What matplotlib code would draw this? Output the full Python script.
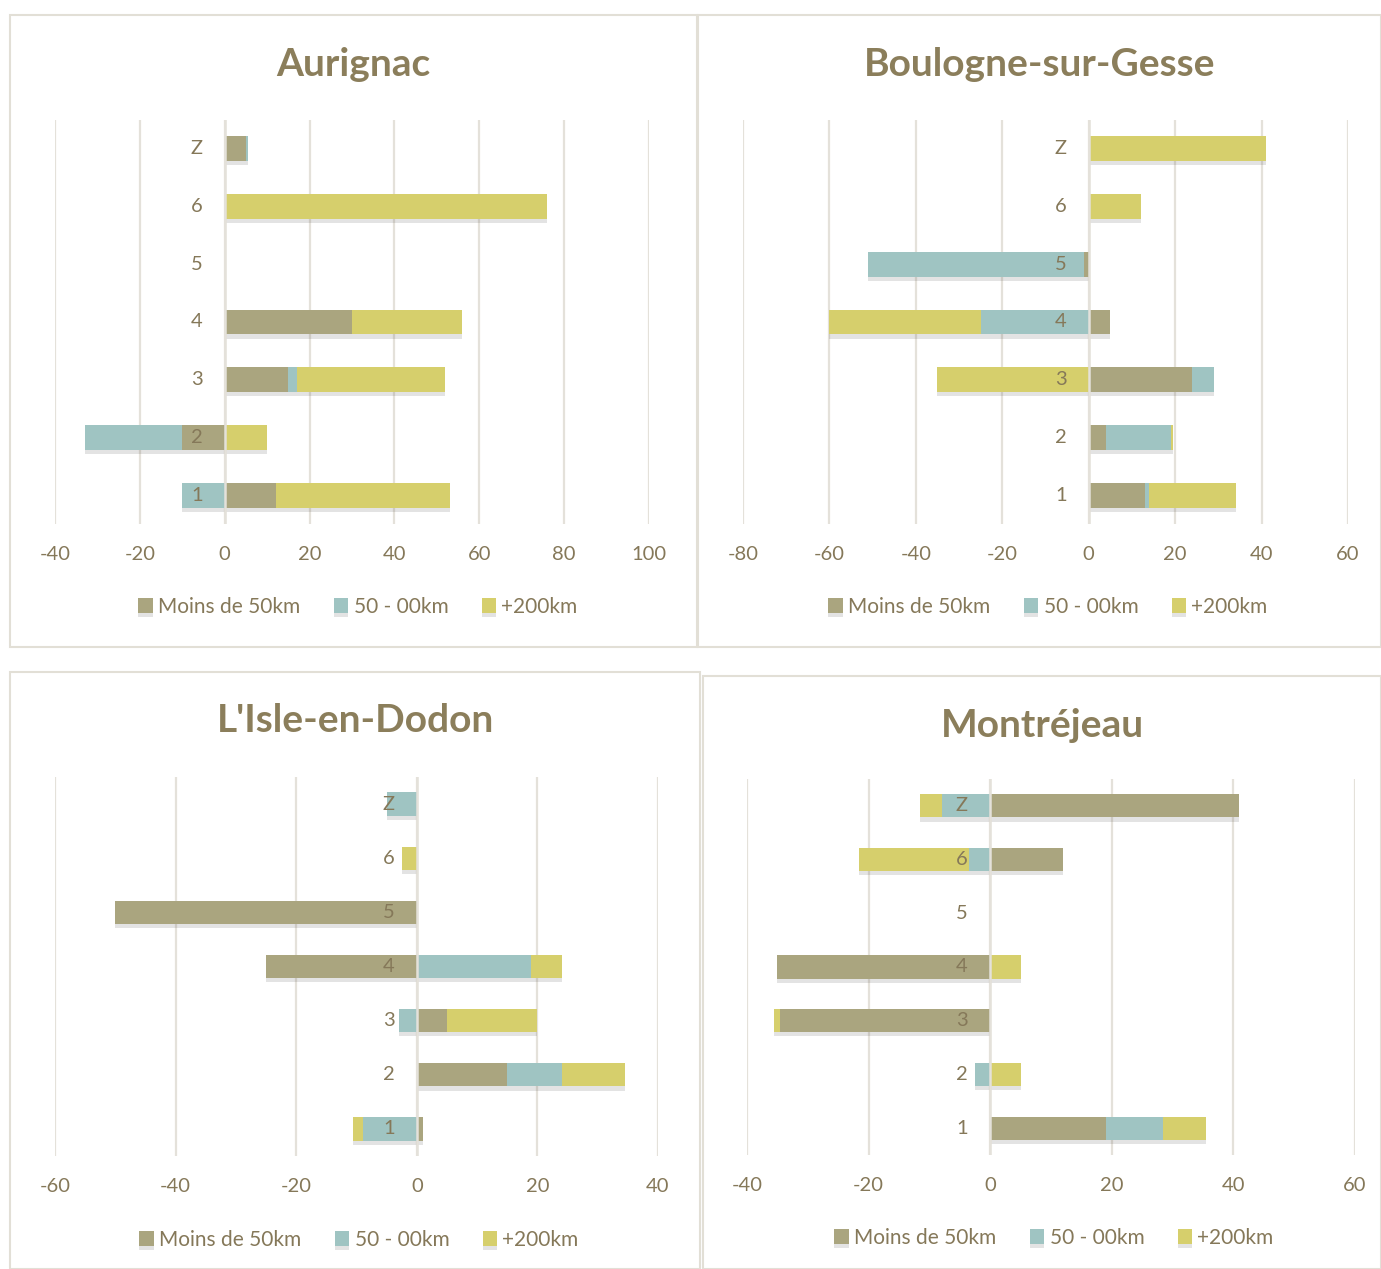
import numpy as np
import matplotlib
matplotlib.use("Agg")
import matplotlib.pyplot as plt
import matplotlib.patheffects as pe
from matplotlib.patches import Rectangle

plt.rcParams['font.family'] = ['Lato', 'DejaVu Sans']

categories = ['1', '2', '3', '4', '5', '6', 'Z']
series_names = ['Moins de 50km', '50 - 00km', '+200km']

# values per town, one list per distance band (categories 1..6, Z)
aurignac_moins = [12, -10, 15, 30, 0, 0, 5]
aurignac_mid = [-10, -23, 2, 0, 0, 0, 0.5]
aurignac_plus = [41, 10, 35, 26, 0, 76, 0]

boulogne_moins = [13, 4, 24, 5, -1, 0, 0]
boulogne_mid = [1, 15, 5, -25, -50, 0, 0]
boulogne_plus = [20, 0.5, -35, -35, 0, 12, 41]

isle_moins = [1, 15, 5, -25, -50, 0, 0]
isle_mid = [-9, 9, -3, 19, 0, 0, -5]
isle_plus = [-1.5, 10.5, 15, 5, 0, -2.5, 0]

montrejeau_moins = [19, 0, -34.5, -35, 0, 12, 41]
montrejeau_mid = [9.5, -2.5, 0, 0, 0, -3.5, -8]
montrejeau_plus = [7, 5, -1, 5, 0, -18, -3.5]

COLORS = ['#aaa57f', '#9fc4c2', '#d6cf6c']
TXT = '#857859'
TITLE_C = '#8b7e5b'
GRID_C = '#e4e1da'
FRAME_C = '#e2dfd6'

W, H = 1381, 1269
fig = plt.figure(figsize=(W / 100, H / 100), dpi=100)


def fx(px):
    return px / W


def fy(py):
    return 1 - py / H


def panel(frame, plot_box, title, title_y, legend_xy, data, xlim, xticks):
    # frame and plot box in pixels: (x0, y0, x1, y1), y measured from the top
    x0, y0, x1, y1 = frame
    fig.patches.append(Rectangle((fx(x0), fy(y1)), fx(x1 - x0), (y1 - y0) / H,
                                 transform=fig.transFigure, fill=False,
                                 edgecolor=FRAME_C, lw=1.5, zorder=0))
    px0, py0, px1, py1 = plot_box
    ax = fig.add_axes([fx(px0), fy(py1), fx(px1 - px0), (py1 - py0) / H])
    y = np.arange(len(categories))
    pos = np.zeros(len(categories))
    neg = np.zeros(len(categories))
    handles = []
    for vals, color, name in zip(data, COLORS, series_names):
        vals = np.asarray(vals, dtype=float)
        left = np.where(vals >= 0, pos, neg)
        bars = ax.barh(y, vals, left=left, height=0.43, color=color,
                       label=name, zorder=2)
        for b in bars:
            b.set_path_effects([pe.SimplePatchShadow(offset=(0, -3),
                                                     alpha=0.14,
                                                     shadow_rgbFace='#3a3a3a'),
                                pe.Normal()])
        handles.append(bars)
        pos += np.clip(vals, 0, None)
        neg += np.clip(vals, None, 0)

    ax.set_xlim(*xlim)
    ax.set_ylim(-0.5, len(categories) - 0.5)
    ax.set_xticks(xticks)
    ax.set_xticklabels([str(t) for t in xticks])
    ax.tick_params(axis='x', length=0, pad=16, labelsize=14.5, colors=TXT)
    ax.set_yticks([])
    for t in xticks:
        ax.axvline(t, color=GRID_C, lw=1.6, zorder=1)
    ax.axvline(0, color=GRID_C, lw=1.8, zorder=3)
    for s in ax.spines.values():
        s.set_visible(False)
    for i, c in enumerate(categories):
        ax.annotate(c, xy=(0, i), xytext=(-16, 0), textcoords='offset points',
                    ha='right', va='center', fontsize=14.5, color=TXT, zorder=4)

    fig.text(fx((x0 + x1) / 2), fy(title_y), title, ha='center', va='center',
             fontsize=28, fontweight='bold', color=TITLE_C)
    leg = fig.legend(handles, series_names, loc='center', ncol=3,
                     bbox_to_anchor=(fx(legend_xy[0]), fy(legend_xy[1])),
                     frameon=False, fontsize=15, handlelength=0.7,
                     handleheight=0.7, handletextpad=0.25, columnspacing=1.6)
    for t in leg.get_texts():
        t.set_color(TXT)
    return ax


panel((10, 15, 697, 647), (55, 120, 649, 524), 'Aurignac', 64, (358, 607),
      [aurignac_moins, aurignac_mid, aurignac_plus], (-40, 100),
      [-40, -20, 0, 20, 40, 60, 80, 100])
panel((698, 15, 1381, 647), (743, 120, 1348, 524), 'Boulogne-sur-Gesse', 64,
      (1048, 607), [boulogne_moins, boulogne_mid, boulogne_plus], (-80, 60),
      [-80, -60, -40, -20, 0, 20, 40, 60])
panel((10, 672, 700, 1269), (55, 777, 658, 1156), "L'Isle-en-Dodon", 721,
      (359, 1240), [isle_moins, isle_mid, isle_plus], (-60, 40),
      [-60, -40, -20, 0, 20, 40])
panel((703, 676, 1381, 1269), (747, 779, 1355, 1155), 'Montréjeau', 725,
      (1054, 1238), [montrejeau_moins, montrejeau_mid, montrejeau_plus],
      (-40, 60), [-40, -20, 0, 20, 40, 60])

fig.savefig('out.png', dpi=100)
